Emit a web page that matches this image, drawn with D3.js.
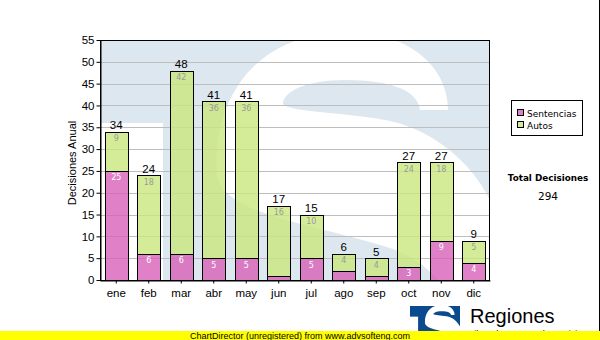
<!DOCTYPE html>
<html>
<head>
<meta charset="utf-8">
<script src="https://cdn.jsdelivr.net/npm/d3@7/dist/d3.min.js"></script>
<style>
  html, body { margin: 0; padding: 0; background: #fff; }
  svg { display: block; }
</style>
</head>
<body>
<svg id="chart" width="600" height="340"></svg>
<script>
// Monthly decisions, split by type
const months = ["ene", "feb", "mar", "abr", "may", "jun", "jul", "ago", "sep", "oct", "nov", "dic"];
const sentencias = [25, 6, 6, 5, 5, 1, 5, 2, 1, 3, 9, 4];
const autos = [9, 18, 42, 36, 36, 16, 10, 4, 4, 24, 18, 5];
const seriesNames = ["Sentencias", "Autos"];
const yTicks = [0, 5, 10, 15, 20, 25, 30, 35, 40, 45, 50, 55];

const svg = d3.select("#chart");
const plot = { left: 100, top: 40, right: 490, bottom: 280 };

const x = d3.scaleBand().domain(months)
  .range([plot.left, plot.right]).paddingInner(0.28).paddingOuter(0.14);
const y = d3.scaleLinear().domain([0, 55]).range([plot.bottom, plot.top]);

const colors = { Sentencias: "#d860b8", Autos: "#c9e77e" };

// Emblem artwork (T + S), drawn in plot-area coordinates
const emblemS = "M217,175 C212,110 245,42 330,33 C405,26 448,65 448,110 L420,110 " +
  "C418,92 395,80 345,80 C305,80 283,92 283,104 C290,112 340,112 385,120 " +
  "C430,128 470,160 490,200 C505,230 520,260 520,320 L460,320 " +
  "C450,290 430,262 390,248 C340,232 280,222 245,205 C228,196 219,188 217,175 Z";

function drawEmblem(g, back, front) {
  g.append("rect").attr("x", plot.left).attr("y", plot.top)
    .attr("width", plot.right - plot.left).attr("height", 300).attr("fill", back);
  g.append("rect").attr("x", plot.left).attr("y", 123)
    .attr("width", 63).attr("height", 220).attr("fill", front);
  g.append("path").attr("d", emblemS).attr("fill", front);
}

// Watermark inside the plot area
svg.append("clipPath").attr("id", "plotClip")
  .append("rect").attr("x", plot.left).attr("y", plot.top)
  .attr("width", plot.right - plot.left).attr("height", plot.bottom - plot.top);
drawEmblem(svg.append("g").attr("clip-path", "url(#plotClip)"), "#dde7f0", "#fff");

// Horizontal grid
svg.append("g").selectAll("line").data(yTicks).join("line")
  .attr("x1", plot.left).attr("x2", plot.right)
  .attr("y1", d => Math.round(y(d)) + 0.5).attr("y2", d => Math.round(y(d)) + 0.5)
  .attr("stroke", "#bdbdbd").attr("stroke-width", 1);

// Stacked bars
const data = months.map((m, i) => ({ m, Sentencias: sentencias[i], Autos: autos[i] }));
const stack = d3.stack().keys(seriesNames)(data);

const layers = svg.append("g").selectAll("g").data(stack).join("g");
layers.selectAll("rect").data(d => d.map(v => ({ key: d.key, v }))).join("rect")
  .attr("x", d => Math.round(x(d.v.data.m)) + 0.5)
  .attr("y", d => Math.round(y(d.v[1])) + 0.5)
  .attr("width", Math.round(x.bandwidth()))
  .attr("height", d => Math.round(y(d.v[0])) - Math.round(y(d.v[1])))
  .attr("fill", d => colors[d.key]).attr("fill-opacity", 0.8)
  .attr("stroke", "#000").attr("stroke-width", 1);

// Segment value labels
layers.selectAll("text").data(d => d.map(v => ({ key: d.key, v })))
  .join("text")
  .filter(d => y(d.v[0]) - y(d.v[1]) >= 12)
  .attr("x", d => x(d.v.data.m) + x.bandwidth() / 2)
  .attr("y", d => y(d.v[1]) + 9.5)
  .attr("text-anchor", "middle")
  .attr("font-family", "DejaVu Sans").attr("font-size", 8)
  .attr("fill", d => d.key === "Sentencias" ? "#fff" : "#9a9a9a")
  .text(d => d.v.data[d.key]);

// Totals above each bar
svg.append("g").selectAll("text").data(data).join("text")
  .attr("x", d => x(d.m) + x.bandwidth() / 2)
  .attr("y", d => y(d.Sentencias + d.Autos) - 2.5)
  .attr("text-anchor", "middle")
  .attr("font-family", "Liberation Sans, Arial").attr("font-size", 11.5)
  .attr("fill", "#000")
  .text(d => d.Sentencias + d.Autos);

// Plot frame
svg.append("rect").attr("x", plot.left + 0.5).attr("y", plot.top + 0.5)
  .attr("width", plot.right - plot.left - 1).attr("height", plot.bottom - plot.top)
  .attr("fill", "none").attr("stroke", "#000");

// Axes
const yAxis = svg.append("g").attr("transform", `translate(${plot.left + 0.5},0)`)
  .call(d3.axisLeft(y).tickValues(yTicks).tickSize(4).tickPadding(2).tickSizeOuter(0));
const xAxis = svg.append("g").attr("transform", `translate(0,${plot.bottom + 0.5})`)
  .call(d3.axisBottom(x).tickSize(3).tickPadding(5).tickSizeOuter(0));
[yAxis, xAxis].forEach(a => {
  a.select(".domain").attr("stroke", "#000");
  a.selectAll(".tick line").attr("stroke", "#000");
  a.selectAll("text").attr("font-family", "Liberation Sans, Arial")
    .attr("font-size", 11.5).attr("fill", "#000");
});

svg.append("text")
  .attr("transform", "translate(76,163) rotate(-90)")
  .attr("text-anchor", "middle")
  .attr("font-family", "Liberation Sans, Arial").attr("font-size", 11)
  .text("Decisiones Anual");

// Legend
const legend = svg.append("g");
legend.append("rect").attr("x", 511.5).attr("y", 100.5).attr("width", 71).attr("height", 35)
  .attr("fill", "#fff").attr("stroke", "#000");
seriesNames.forEach((name, i) => {
  legend.append("rect").attr("x", 517.5).attr("y", 109.5 + i * 12).attr("width", 6).attr("height", 6)
    .attr("fill", colors[name]).attr("fill-opacity", 0.8).attr("stroke", "#000");
  legend.append("text").attr("x", 527).attr("y", 117 + i * 12)
    .attr("font-family", "DejaVu Sans").attr("font-size", 9).text(name);
});

// Grand total
const grandTotal = d3.sum(sentencias) + d3.sum(autos);
svg.append("text").attr("x", 548).attr("y", 181).attr("text-anchor", "middle")
  .attr("font-family", "DejaVu Sans").attr("font-weight", "bold").attr("font-size", 8.8)
  .text("Total Decisiones");
svg.append("text").attr("x", 548).attr("y", 200).attr("text-anchor", "middle")
  .attr("font-family", "DejaVu Sans").attr("font-size", 10.5)
  .text(grandTotal);

// Right edge line
svg.append("line").attr("x1", 599.5).attr("x2", 599.5).attr("y1", 0).attr("y2", 331)
  .attr("stroke", "#000");

// Logo: the emblem reduced, followed by the name
svg.append("clipPath").attr("id", "logoClip")
  .append("rect").attr("x", 410).attr("y", 306).attr("width", 50).attr("height", 30);
const k = 50 / (plot.right - plot.left);
drawEmblem(
  svg.append("g").attr("clip-path", "url(#logoClip)").append("g")
    .attr("transform", `translate(${410 - plot.left * k},${306 - plot.top * k}) scale(${k})`),
  "#0b4a8f", "#fff");
svg.append("text").attr("x", 470).attr("y", 323)
  .attr("font-family", "Liberation Sans, Arial").attr("font-size", 20).text("Regiones");
svg.append("text").attr("x", 466).attr("y", 337)
  .attr("font-family", "Liberation Sans, Arial").attr("font-size", 9).text("Tribunal Supremo de Justicia");

// Footer banner
svg.append("rect").attr("x", 0).attr("y", 331).attr("width", 600).attr("height", 9).attr("fill", "#ffff00");
svg.append("text").attr("x", 190).attr("y", 338.5)
  .attr("font-family", "Liberation Sans, Arial").attr("font-size", 9)
  .text("ChartDirector (unregistered) from www.advsofteng.com");
</script>
</body>
</html>
